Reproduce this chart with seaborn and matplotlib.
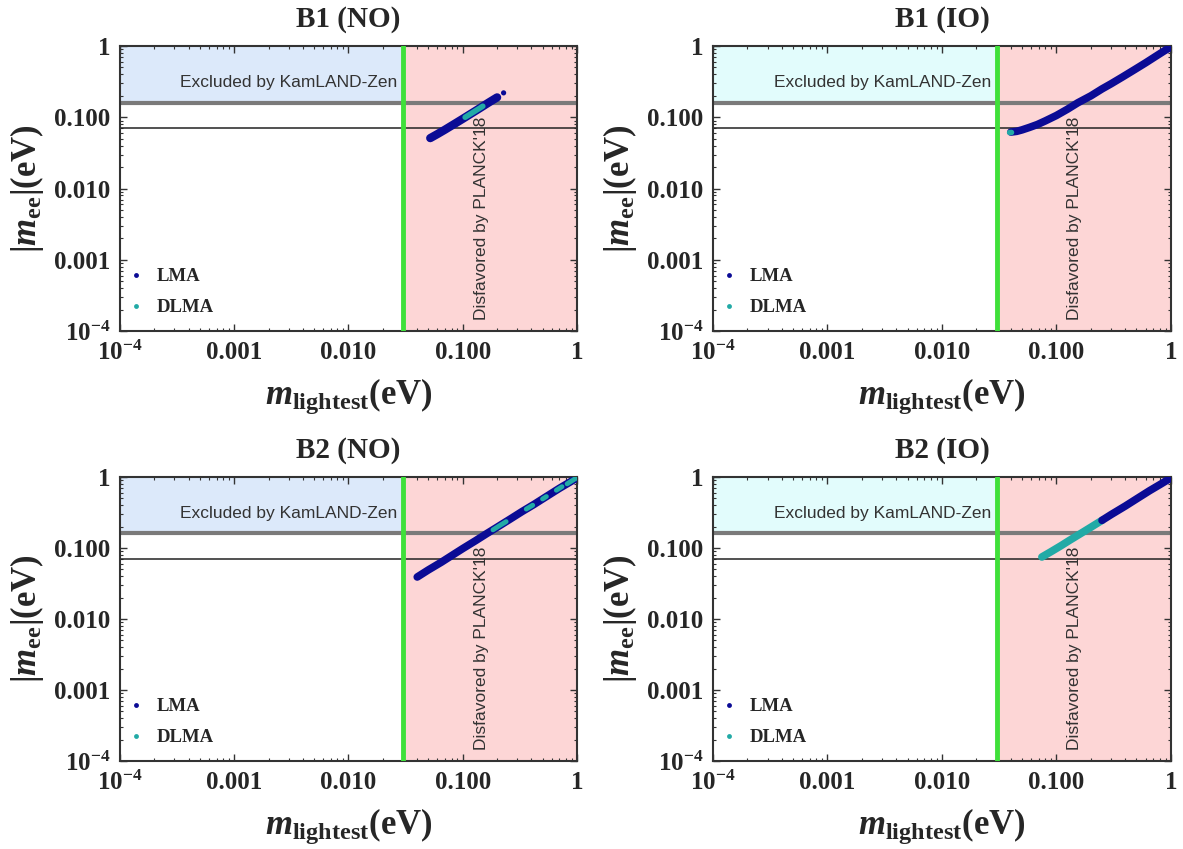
import numpy as np
import pandas as pd
import seaborn as sns
import matplotlib.pyplot as plt
from matplotlib.lines import Line2D

sns.set_style('ticks')
plt.rcParams['font.family'] = ['Liberation Serif', 'DejaVu Serif']
plt.rcParams['mathtext.fontset'] = 'custom'
plt.rcParams['mathtext.rm'] = 'Liberation Serif:bold'
plt.rcParams['mathtext.it'] = 'Liberation Serif:italic:bold'
plt.rcParams['mathtext.bf'] = 'Liberation Serif:bold'

# values: m_lightest (eV) vs |m_ee| (eV)
b1no_lma_x = [0.052, 0.06, 0.07, 0.085, 0.1, 0.12, 0.14, 0.17, 0.2]
b1no_lma_y = [0.051, 0.058, 0.067, 0.081, 0.095, 0.114, 0.133, 0.162, 0.19]
b1no_out_x = [0.228]
b1no_out_y = [0.22]
b1no_dlma_x = [0.105, 0.125, 0.15]
b1no_dlma_y = [0.1, 0.119, 0.143]

b1io_lma_x = [0.040, 0.045, 0.05, 0.058, 0.068, 0.08, 0.1, 0.125, 0.154, 0.2, 0.25, 0.3, 0.38, 0.48, 0.6, 0.75, 0.87, 1.0]
b1io_lma_y = [0.062, 0.0635, 0.0665, 0.072, 0.079, 0.089, 0.106, 0.13, 0.16, 0.2, 0.25, 0.295, 0.37, 0.465, 0.58, 0.73, 0.85, 0.97]
b1io_dlma_x = [0.039, 0.0405]
b1io_dlma_y = [0.061, 0.0612]

b2no_lma_x = [0.040, 0.05, 0.065, 0.08, 0.1, 0.13, 0.163, 0.2, 0.26, 0.33, 0.42, 0.55, 0.7, 0.85, 1.0]
b2no_lma_y = [0.039, 0.049, 0.063, 0.078, 0.098, 0.127, 0.16, 0.196, 0.255, 0.325, 0.41, 0.54, 0.69, 0.83, 0.97]
b2no_dlma_segs = [([0.184, 0.21, 0.24], [0.18, 0.206, 0.235]),
                  ([0.36, 0.41], [0.353, 0.40]),
                  ([0.50, 0.54], [0.49, 0.53]),
                  ([0.66, 0.74], [0.65, 0.73]),
                  ([0.82, 0.9, 1.0], [0.80, 0.88, 0.98])]

b2io_dlma_x = [0.0746, 0.09, 0.11, 0.13, 0.16, 0.2, 0.25]
b2io_dlma_y = [0.0746, 0.089, 0.108, 0.128, 0.157, 0.196, 0.245]
b2io_lma_x = [0.25, 0.3, 0.4, 0.5, 0.65, 0.8, 1.0]
b2io_lma_y = [0.245, 0.295, 0.39, 0.49, 0.64, 0.78, 0.97]

planck_limit = 0.03
kamland_upper = 0.16
kamland_lower = 0.071

LMA_C = '#0b0b95'
DLMA_C = '#22aaa6'
PINK = '#fdd6d6'
GREEN = '#3fe03a'

x_ticks = [1e-4, 1e-3, 1e-2, 1e-1, 1]
x_labels = [r'$10^{-4}$', '0.001', '0.010', '0.100', '1']

panels = [
    ('B1 (NO)', [0.1014, 0.6101, 0.3863, 0.3357], '#dce9fa'),
    ('B1 (IO)', [0.6027, 0.6101, 0.3871, 0.3357], '#e2fcfc'),
    ('B2 (NO)', [0.1014, 0.1037, 0.3863, 0.3345], '#dce9fa'),
    ('B2 (IO)', [0.6027, 0.1037, 0.3871, 0.3345], '#e2fcfc'),
]

fig = plt.figure(figsize=(11.83, 8.49), dpi=100)


def band(ax, x, y, color, lw=5.5):
    df = pd.DataFrame({'x': x, 'y': y})
    sns.lineplot(data=df, x='x', y='y', ax=ax, color=color, lw=lw,
                 sort=False, estimator=None, solid_capstyle='round', zorder=5)


for i, (title, pos, blue) in enumerate(panels):
    ax = fig.add_axes(pos)
    ax.set_xscale('log')
    ax.set_yscale('log')
    ax.set_xlim(1e-4, 1)
    ax.set_ylim(1e-4, 1)

    ax.fill_between([1e-4, planck_limit], kamland_upper, 1, color=blue, lw=0, zorder=0)
    ax.axvspan(planck_limit, 1, color=PINK, lw=0, zorder=0)
    ax.axhline(kamland_upper, color='#7a7a7a', lw=3, zorder=2)
    ax.axhline(kamland_lower, color='#222222', lw=1.1, zorder=2)
    ax.axvline(planck_limit, color=GREEN, lw=3.5, zorder=3)

    if i == 0:
        band(ax, b1no_lma_x, b1no_lma_y, LMA_C, lw=6)
        band(ax, b1no_dlma_x, b1no_dlma_y, DLMA_C, lw=4)
        sns.scatterplot(x=b1no_out_x, y=b1no_out_y, ax=ax, color=LMA_C, s=14,
                        edgecolor='none', zorder=5)
    elif i == 1:
        band(ax, b1io_lma_x, b1io_lma_y, LMA_C)
        band(ax, b1io_dlma_x, b1io_dlma_y, DLMA_C, lw=4)
    elif i == 2:
        band(ax, b2no_lma_x, b2no_lma_y, LMA_C)
        for sx, sy in b2no_dlma_segs:
            band(ax, sx, sy, DLMA_C, lw=3.5)
    else:
        band(ax, b2io_dlma_x, b2io_dlma_y, DLMA_C)
        band(ax, b2io_lma_x, b2io_lma_y, LMA_C)

    ax.text(0.027, 0.31, 'Excluded by KamLAND-Zen', family='Liberation Sans',
            fontsize=12.5, color='#333333', ha='right', va='center', zorder=6)
    ax.text(0.145, 1.45e-4, "Disfavored by PLANCK'18", family='Liberation Sans',
            fontsize=12.5, color='#333333', rotation=90, ha='center', va='bottom', zorder=6)

    ax.set_xticks(x_ticks)
    ax.set_xticklabels(x_labels)
    ax.set_yticks(x_ticks)
    ax.set_yticklabels(x_labels)
    ax.tick_params(which='both', direction='in', top=True, right=True, color='#333333')
    ax.tick_params(which='major', length=5, width=1, labelsize=18, pad=7)
    ax.tick_params(which='minor', length=2.5, width=0.8)
    for lab in ax.get_xticklabels() + ax.get_yticklabels():
        lab.set_fontweight('bold')
    for sp in ax.spines.values():
        sp.set_color('#333333')
        sp.set_linewidth(1.5)

    ax.set_title(title, fontsize=21, fontweight='bold', pad=14)
    ax.set_xlabel(r'$m_{\mathrm{lightest}}$(eV)', fontsize=25, fontweight='bold', labelpad=8)
    ax.set_ylabel(r'$|m_{\mathrm{ee}}|$(eV)', fontsize=25, fontweight='bold', labelpad=6)

    handles = [Line2D([], [], ls='', marker='o', ms=3.5, color=LMA_C, mec='none'),
               Line2D([], [], ls='', marker='o', ms=3.5, color=DLMA_C, mec='none')]
    ax.legend(handles, ['LMA', 'DLMA'], loc='lower left', frameon=False,
              prop={'family': 'Liberation Serif', 'weight': 'bold', 'size': 13.5},
              handletextpad=0.6, labelspacing=0.75, handlelength=1.0,
              borderaxespad=0.3, bbox_to_anchor=(-0.015, 0.005))

fig.savefig('out.png', dpi=100)
